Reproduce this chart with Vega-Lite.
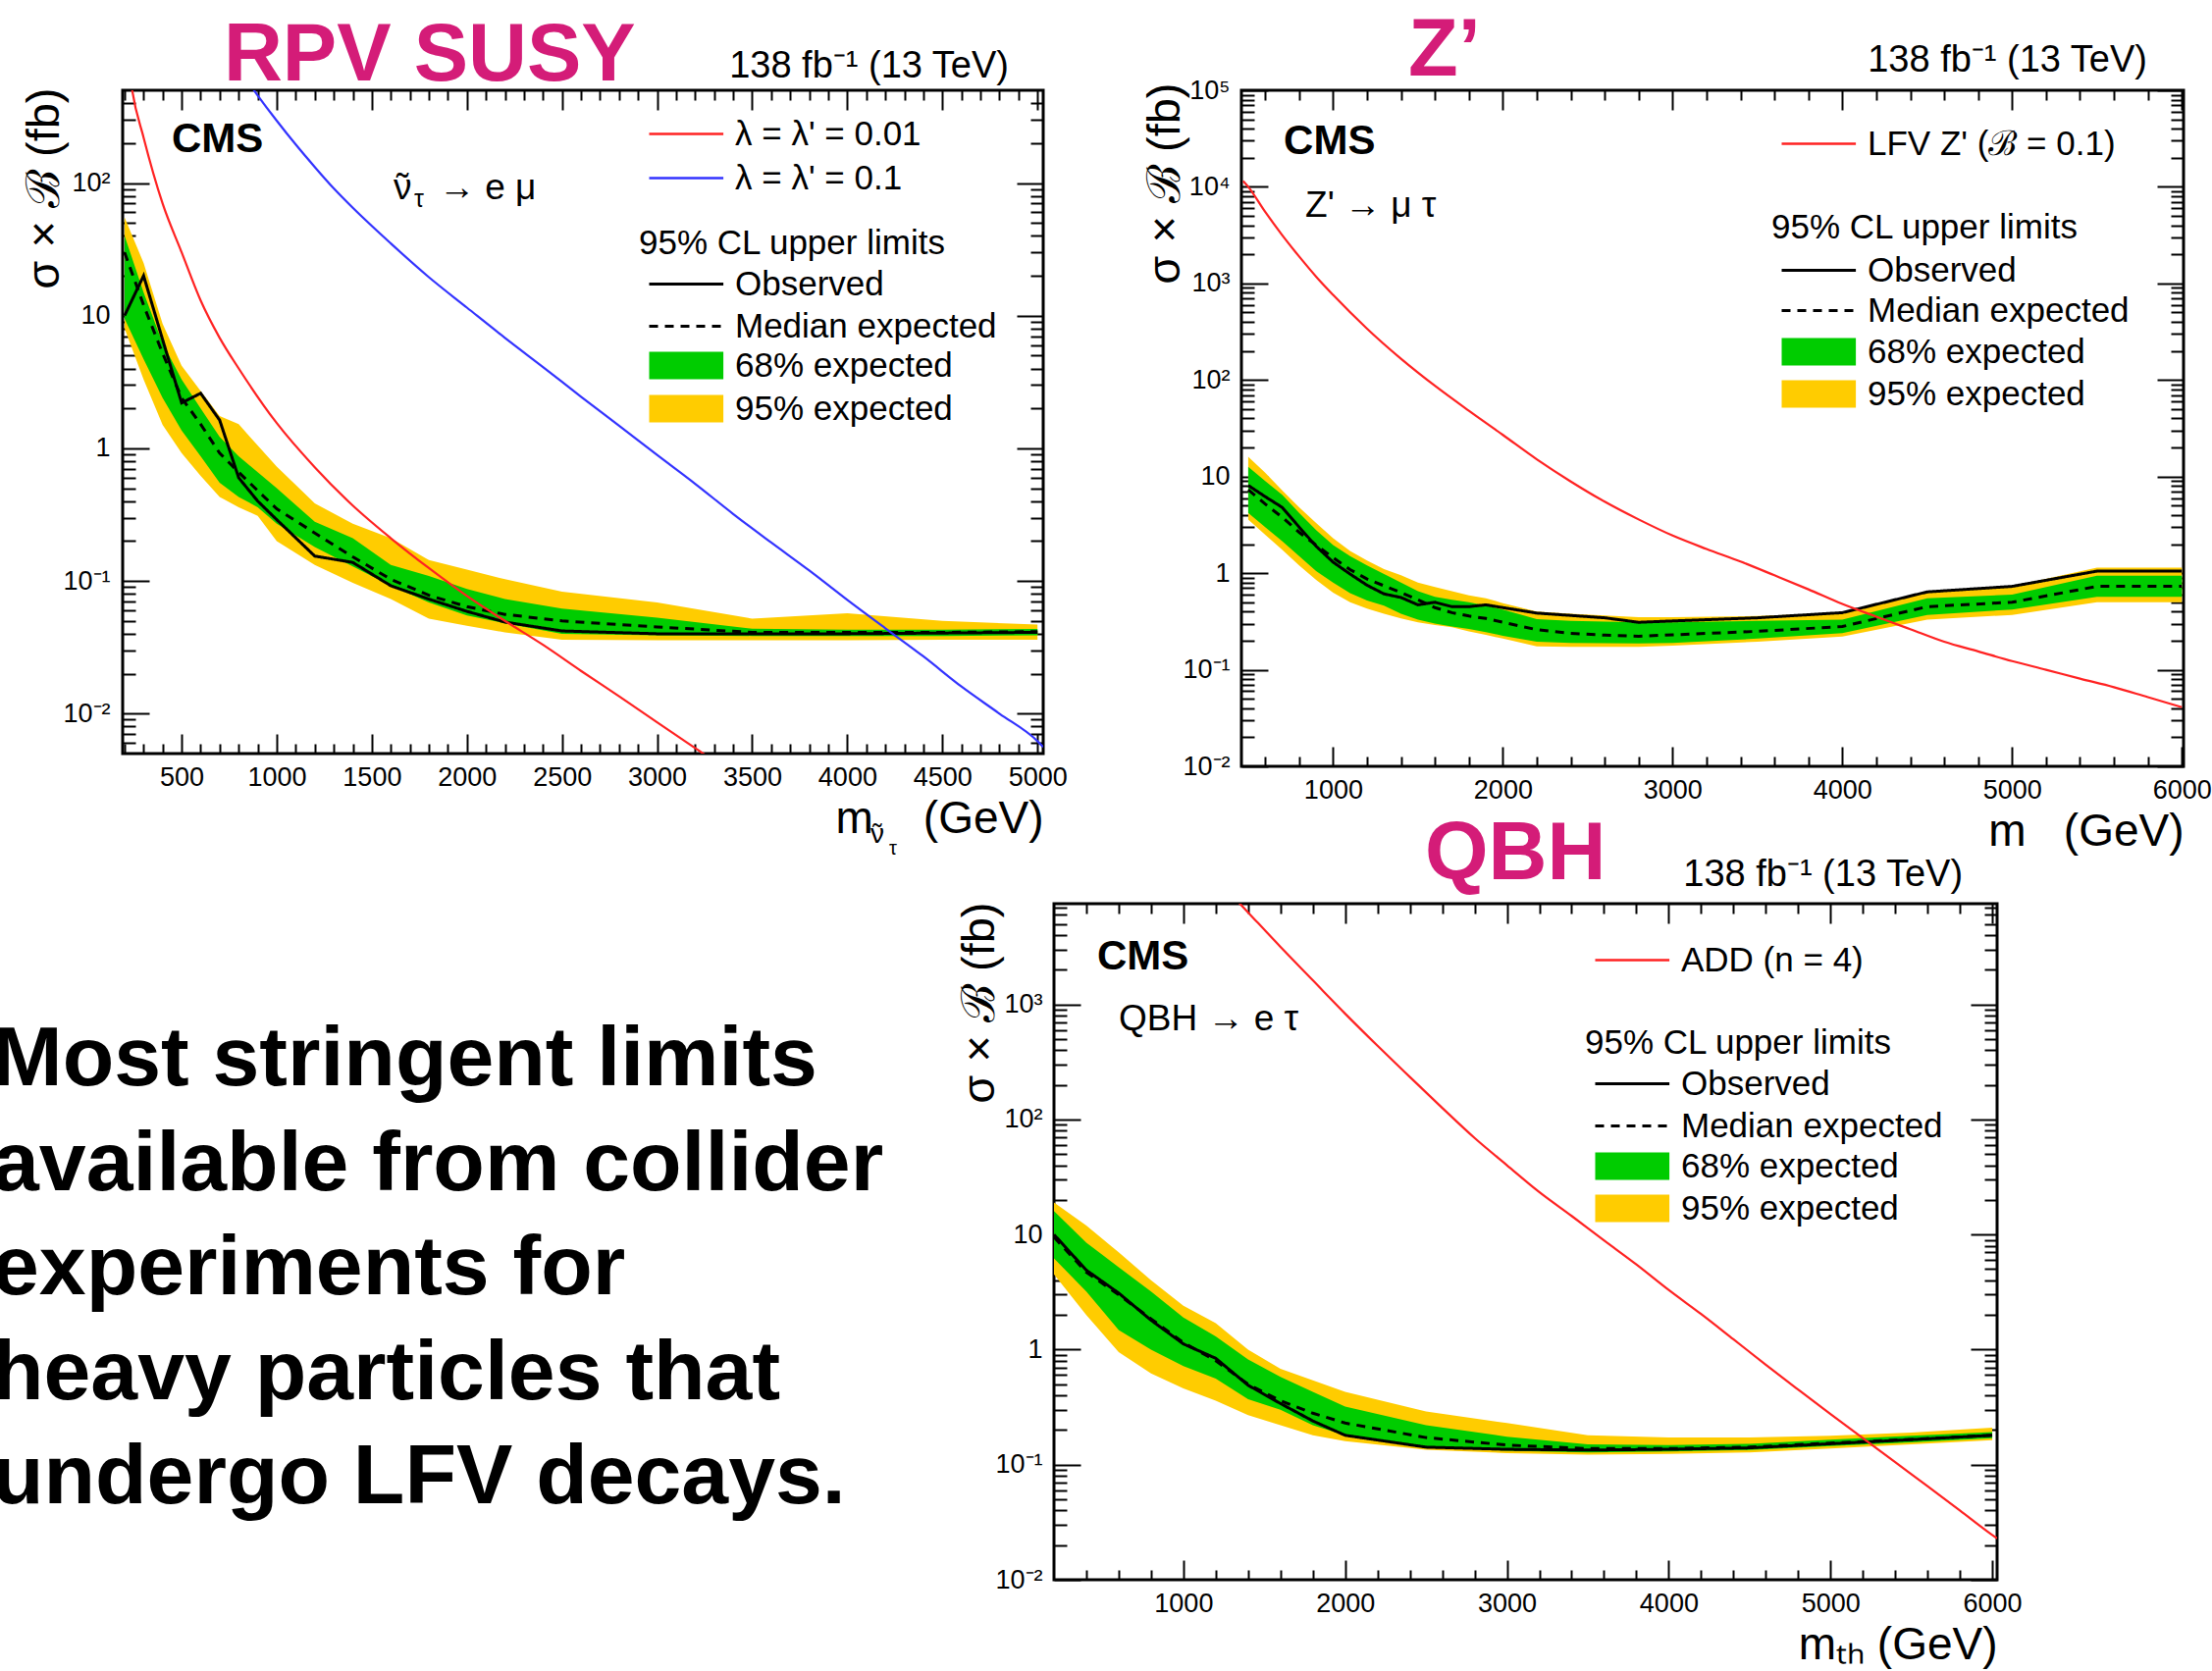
{
  "$schema": "https://vega.github.io/schema/vega-lite/v6.json",
  "background": "white",
  "padding": {"left": -8, "top": 9, "right": 0, "bottom": 0},
  "datasets": {
    "rpv": [
      {"m": 200, "obs": 10, "exp": 30, "lo68": 9.5, "hi68": 40, "lo95": 8, "hi95": 55},
      {"m": 300, "obs": 20, "exp": 12, "lo68": 4.7, "hi68": 15, "lo95": 3.3, "hi95": 25},
      {"m": 400, "obs": 6.6, "exp": 5.2, "lo68": 2.4, "hi68": 6.2, "lo95": 1.5, "hi95": 8.7},
      {"m": 500, "obs": 2.2, "exp": 2.4, "lo68": 1.36, "hi68": 3.3, "lo95": 0.92, "hi95": 4.2},
      {"m": 600, "obs": 2.6, "exp": 1.52, "lo68": 0.87, "hi68": 2.0, "lo95": 0.62, "hi95": 2.7},
      {"m": 700, "obs": 1.63, "exp": 0.92, "lo68": 0.55, "hi68": 1.22, "lo95": 0.43, "hi95": 1.75},
      {"m": 800, "obs": 0.6, "exp": 0.66, "lo68": 0.43, "hi68": 0.87, "lo95": 0.36, "hi95": 1.52},
      {"m": 900, "obs": 0.4, "exp": 0.48, "lo68": 0.36, "hi68": 0.66, "lo95": 0.31, "hi95": 1.05},
      {"m": 1000, "obs": 0.29, "exp": 0.35, "lo68": 0.27, "hi68": 0.5, "lo95": 0.2, "hi95": 0.73},
      {"m": 1200, "obs": 0.154, "exp": 0.23, "lo68": 0.18, "hi68": 0.28, "lo95": 0.132, "hi95": 0.385},
      {"m": 1400, "obs": 0.138, "exp": 0.152, "lo68": 0.129, "hi68": 0.21, "lo95": 0.097, "hi95": 0.27},
      {"m": 1600, "obs": 0.092, "exp": 0.103, "lo68": 0.092, "hi68": 0.132, "lo95": 0.073, "hi95": 0.21},
      {"m": 1800, "obs": 0.073, "exp": 0.078, "lo68": 0.069, "hi68": 0.109, "lo95": 0.052, "hi95": 0.144},
      {"m": 2000, "obs": 0.059, "exp": 0.064, "lo68": 0.055, "hi68": 0.087, "lo95": 0.046, "hi95": 0.122},
      {"m": 2200, "obs": 0.049, "exp": 0.056, "lo68": 0.048, "hi68": 0.073, "lo95": 0.041, "hi95": 0.103},
      {"m": 2500, "obs": 0.042, "exp": 0.05, "lo68": 0.04, "hi68": 0.062, "lo95": 0.036, "hi95": 0.083},
      {"m": 3000, "obs": 0.04, "exp": 0.045, "lo68": 0.039, "hi68": 0.053, "lo95": 0.0357, "hi95": 0.069},
      {"m": 3500, "obs": 0.04, "exp": 0.041, "lo68": 0.0385, "hi68": 0.0436, "lo95": 0.0357, "hi95": 0.052},
      {"m": 4000, "obs": 0.04, "exp": 0.041, "lo68": 0.0385, "hi68": 0.043, "lo95": 0.0357, "hi95": 0.057},
      {"m": 4500, "obs": 0.0405, "exp": 0.041, "lo68": 0.0385, "hi68": 0.043, "lo95": 0.036, "hi95": 0.05},
      {"m": 5000, "obs": 0.041, "exp": 0.0415, "lo68": 0.039, "hi68": 0.0435, "lo95": 0.036, "hi95": 0.047}
    ],
    "rpv_theory": [
      {"model": "λ = λ' = 0.01", "m": 220, "xs": 800},
      {"model": "λ = λ' = 0.01", "m": 240, "xs": 500},
      {"model": "λ = λ' = 0.01", "m": 300, "xs": 220},
      {"model": "λ = λ' = 0.01", "m": 400, "xs": 70},
      {"model": "λ = λ' = 0.01", "m": 500, "xs": 30},
      {"model": "λ = λ' = 0.01", "m": 600, "xs": 13},
      {"model": "λ = λ' = 0.01", "m": 700, "xs": 6.8},
      {"model": "λ = λ' = 0.01", "m": 800, "xs": 4.0},
      {"model": "λ = λ' = 0.01", "m": 1000, "xs": 1.55},
      {"model": "λ = λ' = 0.01", "m": 1200, "xs": 0.72},
      {"model": "λ = λ' = 0.01", "m": 1400, "xs": 0.37},
      {"model": "λ = λ' = 0.01", "m": 1600, "xs": 0.21},
      {"model": "λ = λ' = 0.01", "m": 1800, "xs": 0.125},
      {"model": "λ = λ' = 0.01", "m": 2000, "xs": 0.077},
      {"model": "λ = λ' = 0.01", "m": 2200, "xs": 0.05},
      {"model": "λ = λ' = 0.01", "m": 2400, "xs": 0.033},
      {"model": "λ = λ' = 0.01", "m": 2600, "xs": 0.021},
      {"model": "λ = λ' = 0.01", "m": 2800, "xs": 0.0135},
      {"model": "λ = λ' = 0.01", "m": 3000, "xs": 0.0086},
      {"model": "λ = λ' = 0.01", "m": 3200, "xs": 0.0055},
      {"model": "λ = λ' = 0.01", "m": 3300, "xs": 0.0044},
      {"model": "λ = λ' = 0.1", "m": 850, "xs": 575},
      {"model": "λ = λ' = 0.1", "m": 900, "xs": 457},
      {"model": "λ = λ' = 0.1", "m": 1000, "xs": 295},
      {"model": "λ = λ' = 0.1", "m": 1100, "xs": 195},
      {"model": "λ = λ' = 0.1", "m": 1200, "xs": 132},
      {"model": "λ = λ' = 0.1", "m": 1300, "xs": 91},
      {"model": "λ = λ' = 0.1", "m": 1400, "xs": 65},
      {"model": "λ = λ' = 0.1", "m": 1600, "xs": 35},
      {"model": "λ = λ' = 0.1", "m": 1800, "xs": 19.5},
      {"model": "λ = λ' = 0.1", "m": 2000, "xs": 11.5},
      {"model": "λ = λ' = 0.1", "m": 2200, "xs": 6.8},
      {"model": "λ = λ' = 0.1", "m": 2400, "xs": 4.1},
      {"model": "λ = λ' = 0.1", "m": 2600, "xs": 2.45},
      {"model": "λ = λ' = 0.1", "m": 2800, "xs": 1.48},
      {"model": "λ = λ' = 0.1", "m": 3000, "xs": 0.89},
      {"model": "λ = λ' = 0.1", "m": 3200, "xs": 0.54},
      {"model": "λ = λ' = 0.1", "m": 3400, "xs": 0.32},
      {"model": "λ = λ' = 0.1", "m": 3600, "xs": 0.195},
      {"model": "λ = λ' = 0.1", "m": 3800, "xs": 0.12},
      {"model": "λ = λ' = 0.1", "m": 4000, "xs": 0.072},
      {"model": "λ = λ' = 0.1", "m": 4200, "xs": 0.044},
      {"model": "λ = λ' = 0.1", "m": 4400, "xs": 0.027},
      {"model": "λ = λ' = 0.1", "m": 4600, "xs": 0.016},
      {"model": "λ = λ' = 0.1", "m": 4800, "xs": 0.01},
      {"model": "λ = λ' = 0.1", "m": 5000, "xs": 0.0062},
      {"model": "λ = λ' = 0.1", "m": 5030, "xs": 0.0056}
    ],
    "zp": [
      {"m": 500, "obs": 8.1, "exp": 7.3, "lo68": 4.2, "hi68": 12.6, "lo95": 3.6, "hi95": 16},
      {"m": 600, "obs": 6.2, "exp": 5.2, "lo68": 3.0, "hi68": 9.0, "lo95": 2.5, "hi95": 11},
      {"m": 700, "obs": 4.8, "exp": 3.8, "lo68": 2.15, "hi68": 6.5, "lo95": 1.75, "hi95": 7.2},
      {"m": 800, "obs": 3.0, "exp": 2.65, "lo68": 1.5, "hi68": 4.2, "lo95": 1.2, "hi95": 4.8},
      {"m": 900, "obs": 1.9, "exp": 1.95, "lo68": 1.05, "hi68": 2.8, "lo95": 0.85, "hi95": 3.3},
      {"m": 1000, "obs": 1.3, "exp": 1.45, "lo68": 0.8, "hi68": 1.95, "lo95": 0.63, "hi95": 2.3},
      {"m": 1100, "obs": 0.98, "exp": 1.09, "lo68": 0.62, "hi68": 1.5, "lo95": 0.5, "hi95": 1.7},
      {"m": 1200, "obs": 0.75, "exp": 0.87, "lo68": 0.52, "hi68": 1.2, "lo95": 0.43, "hi95": 1.35},
      {"m": 1300, "obs": 0.61, "exp": 0.74, "lo68": 0.46, "hi68": 0.98, "lo95": 0.38, "hi95": 1.1},
      {"m": 1400, "obs": 0.56, "exp": 0.63, "lo68": 0.38, "hi68": 0.8, "lo95": 0.34, "hi95": 0.95},
      {"m": 1500, "obs": 0.47, "exp": 0.53, "lo68": 0.33, "hi68": 0.65, "lo95": 0.31, "hi95": 0.8},
      {"m": 1600, "obs": 0.5, "exp": 0.44, "lo68": 0.3, "hi68": 0.57, "lo95": 0.29, "hi95": 0.72},
      {"m": 1700, "obs": 0.45, "exp": 0.39, "lo68": 0.28, "hi68": 0.53, "lo95": 0.275, "hi95": 0.65},
      {"m": 1800, "obs": 0.45, "exp": 0.36, "lo68": 0.265, "hi68": 0.5, "lo95": 0.25, "hi95": 0.59},
      {"m": 1900, "obs": 0.47, "exp": 0.34, "lo68": 0.245, "hi68": 0.46, "lo95": 0.23, "hi95": 0.55},
      {"m": 2000, "obs": 0.44, "exp": 0.31, "lo68": 0.225, "hi68": 0.42, "lo95": 0.21, "hi95": 0.49},
      {"m": 2200, "obs": 0.386, "exp": 0.26, "lo68": 0.195, "hi68": 0.335, "lo95": 0.175, "hi95": 0.4},
      {"m": 2400, "obs": 0.365, "exp": 0.238, "lo68": 0.19, "hi68": 0.32, "lo95": 0.173, "hi95": 0.38},
      {"m": 2600, "obs": 0.345, "exp": 0.228, "lo68": 0.188, "hi68": 0.315, "lo95": 0.173, "hi95": 0.365},
      {"m": 2800, "obs": 0.31, "exp": 0.222, "lo68": 0.187, "hi68": 0.31, "lo95": 0.173, "hi95": 0.35},
      {"m": 3000, "obs": 0.32, "exp": 0.23, "lo68": 0.19, "hi68": 0.31, "lo95": 0.178, "hi95": 0.35},
      {"m": 3500, "obs": 0.345, "exp": 0.25, "lo68": 0.21, "hi68": 0.32, "lo95": 0.195, "hi95": 0.36},
      {"m": 4000, "obs": 0.39, "exp": 0.28, "lo68": 0.24, "hi68": 0.33, "lo95": 0.22, "hi95": 0.39},
      {"m": 4500, "obs": 0.64, "exp": 0.45, "lo68": 0.37, "hi68": 0.55, "lo95": 0.33, "hi95": 0.64},
      {"m": 5000, "obs": 0.73, "exp": 0.5, "lo68": 0.42, "hi68": 0.6, "lo95": 0.37, "hi95": 0.73},
      {"m": 5500, "obs": 1.05, "exp": 0.73, "lo68": 0.57, "hi68": 0.94, "lo95": 0.5, "hi95": 1.14},
      {"m": 6000, "obs": 1.05, "exp": 0.73, "lo68": 0.57, "hi68": 0.94, "lo95": 0.5, "hi95": 1.14}
    ],
    "zp_theory": [
      {"model": "LFV Z' (ℬ = 0.1)", "m": 470, "xs": 11500},
      {"model": "LFV Z' (ℬ = 0.1)", "m": 500, "xs": 10000},
      {"model": "LFV Z' (ℬ = 0.1)", "m": 600, "xs": 5500},
      {"model": "LFV Z' (ℬ = 0.1)", "m": 700, "xs": 3160},
      {"model": "LFV Z' (ℬ = 0.1)", "m": 800, "xs": 1900},
      {"model": "LFV Z' (ℬ = 0.1)", "m": 900, "xs": 1175},
      {"model": "LFV Z' (ℬ = 0.1)", "m": 1000, "xs": 760},
      {"model": "LFV Z' (ℬ = 0.1)", "m": 1200, "xs": 340},
      {"model": "LFV Z' (ℬ = 0.1)", "m": 1400, "xs": 166},
      {"model": "LFV Z' (ℬ = 0.1)", "m": 1600, "xs": 87},
      {"model": "LFV Z' (ℬ = 0.1)", "m": 1800, "xs": 48},
      {"model": "LFV Z' (ℬ = 0.1)", "m": 2000, "xs": 27},
      {"model": "LFV Z' (ℬ = 0.1)", "m": 2200, "xs": 15.1},
      {"model": "LFV Z' (ℬ = 0.1)", "m": 2400, "xs": 8.9},
      {"model": "LFV Z' (ℬ = 0.1)", "m": 2600, "xs": 5.5},
      {"model": "LFV Z' (ℬ = 0.1)", "m": 2800, "xs": 3.6},
      {"model": "LFV Z' (ℬ = 0.1)", "m": 3000, "xs": 2.45},
      {"model": "LFV Z' (ℬ = 0.1)", "m": 3200, "xs": 1.78},
      {"model": "LFV Z' (ℬ = 0.1)", "m": 3400, "xs": 1.32},
      {"model": "LFV Z' (ℬ = 0.1)", "m": 3600, "xs": 0.95},
      {"model": "LFV Z' (ℬ = 0.1)", "m": 3800, "xs": 0.68},
      {"model": "LFV Z' (ℬ = 0.1)", "m": 4000, "xs": 0.48},
      {"model": "LFV Z' (ℬ = 0.1)", "m": 4200, "xs": 0.355},
      {"model": "LFV Z' (ℬ = 0.1)", "m": 4400, "xs": 0.263},
      {"model": "LFV Z' (ℬ = 0.1)", "m": 4600, "xs": 0.195},
      {"model": "LFV Z' (ℬ = 0.1)", "m": 4800, "xs": 0.155},
      {"model": "LFV Z' (ℬ = 0.1)", "m": 5000, "xs": 0.123},
      {"model": "LFV Z' (ℬ = 0.1)", "m": 5200, "xs": 0.1},
      {"model": "LFV Z' (ℬ = 0.1)", "m": 5400, "xs": 0.081},
      {"model": "LFV Z' (ℬ = 0.1)", "m": 5600, "xs": 0.066},
      {"model": "LFV Z' (ℬ = 0.1)", "m": 5800, "xs": 0.052},
      {"model": "LFV Z' (ℬ = 0.1)", "m": 6000, "xs": 0.041}
    ],
    "qbh": [
      {"m": 200, "obs": 10, "exp": 9.5, "lo68": 6.2, "hi68": 16, "lo95": 4.5, "hi95": 19},
      {"m": 400, "obs": 4.9, "exp": 4.7, "lo68": 3.2, "hi68": 8.5, "lo95": 2.0, "hi95": 12},
      {"m": 600, "obs": 3.1, "exp": 3.0, "lo68": 1.48, "hi68": 5.2, "lo95": 0.95, "hi95": 7.0},
      {"m": 800, "obs": 1.8, "exp": 1.85, "lo68": 1.0, "hi68": 3.2, "lo95": 0.62, "hi95": 4.0},
      {"m": 1000, "obs": 1.12, "exp": 1.15, "lo68": 0.72, "hi68": 1.9, "lo95": 0.46, "hi95": 2.4},
      {"m": 1200, "obs": 0.84, "exp": 0.8, "lo68": 0.56, "hi68": 1.3, "lo95": 0.36, "hi95": 1.7},
      {"m": 1400, "obs": 0.49, "exp": 0.5, "lo68": 0.37, "hi68": 0.82, "lo95": 0.27, "hi95": 1.0},
      {"m": 1600, "obs": 0.34, "exp": 0.36, "lo68": 0.3, "hi68": 0.58, "lo95": 0.22, "hi95": 0.68},
      {"m": 1800, "obs": 0.24, "exp": 0.28, "lo68": 0.22, "hi68": 0.43, "lo95": 0.18, "hi95": 0.54},
      {"m": 2000, "obs": 0.18, "exp": 0.23, "lo68": 0.18, "hi68": 0.32, "lo95": 0.16, "hi95": 0.43},
      {"m": 2500, "obs": 0.142, "exp": 0.172, "lo68": 0.142, "hi68": 0.22, "lo95": 0.135, "hi95": 0.29},
      {"m": 3000, "obs": 0.136, "exp": 0.148, "lo68": 0.132, "hi68": 0.175, "lo95": 0.126, "hi95": 0.23},
      {"m": 3500, "obs": 0.134, "exp": 0.138, "lo68": 0.128, "hi68": 0.15, "lo95": 0.122, "hi95": 0.18},
      {"m": 4000, "obs": 0.136, "exp": 0.138, "lo68": 0.13, "hi68": 0.148, "lo95": 0.124, "hi95": 0.172},
      {"m": 4500, "obs": 0.14, "exp": 0.142, "lo68": 0.134, "hi68": 0.152, "lo95": 0.128, "hi95": 0.172},
      {"m": 5000, "obs": 0.152, "exp": 0.154, "lo68": 0.145, "hi68": 0.165, "lo95": 0.138, "hi95": 0.178},
      {"m": 5500, "obs": 0.165, "exp": 0.166, "lo68": 0.156, "hi68": 0.178, "lo95": 0.15, "hi95": 0.19},
      {"m": 6000, "obs": 0.18, "exp": 0.18, "lo68": 0.17, "hi68": 0.192, "lo95": 0.163, "hi95": 0.21}
    ],
    "qbh_theory": [
      {"model": "ADD (n = 4)", "m": 1300, "xs": 8900},
      {"model": "ADD (n = 4)", "m": 1400, "xs": 6300},
      {"model": "ADD (n = 4)", "m": 1600, "xs": 3160},
      {"model": "ADD (n = 4)", "m": 1800, "xs": 1620},
      {"model": "ADD (n = 4)", "m": 2000, "xs": 830},
      {"model": "ADD (n = 4)", "m": 2200, "xs": 437},
      {"model": "ADD (n = 4)", "m": 2400, "xs": 234},
      {"model": "ADD (n = 4)", "m": 2600, "xs": 126},
      {"model": "ADD (n = 4)", "m": 2800, "xs": 69},
      {"model": "ADD (n = 4)", "m": 3000, "xs": 40},
      {"model": "ADD (n = 4)", "m": 3200, "xs": 23.4},
      {"model": "ADD (n = 4)", "m": 3400, "xs": 14.5},
      {"model": "ADD (n = 4)", "m": 3600, "xs": 8.9},
      {"model": "ADD (n = 4)", "m": 3800, "xs": 5.5},
      {"model": "ADD (n = 4)", "m": 4000, "xs": 3.3},
      {"model": "ADD (n = 4)", "m": 4200, "xs": 2.04},
      {"model": "ADD (n = 4)", "m": 4400, "xs": 1.23},
      {"model": "ADD (n = 4)", "m": 4600, "xs": 0.74},
      {"model": "ADD (n = 4)", "m": 4800, "xs": 0.45},
      {"model": "ADD (n = 4)", "m": 5000, "xs": 0.275},
      {"model": "ADD (n = 4)", "m": 5200, "xs": 0.17},
      {"model": "ADD (n = 4)", "m": 5400, "xs": 0.105},
      {"model": "ADD (n = 4)", "m": 5600, "xs": 0.065},
      {"model": "ADD (n = 4)", "m": 5800, "xs": 0.04},
      {"model": "ADD (n = 4)", "m": 6000, "xs": 0.0245},
      {"model": "ADD (n = 4)", "m": 6030, "xs": 0.0229}
    ],
    "summary": [
      {"line": 1, "text": "Most stringent limits"},
      {"line": 2, "text": "available from collider"},
      {"line": 3, "text": "experiments for"},
      {"line": 4, "text": "heavy particles that"},
      {"line": 5, "text": "undergo LFV decays."}
    ]
  },
  "bounds": "flush",
  "spacing": 829,
  "resolve": {
    "scale": {"fill": "independent", "strokeDash": "independent", "stroke": "independent"},
    "legend": {"fill": "independent", "strokeDash": "independent", "stroke": "independent"}
  },
  "vconcat": [
    {
      "bounds": "flush",
      "spacing": 202,
      "resolve": {
        "scale": {"fill": "independent", "strokeDash": "independent", "stroke": "independent"},
        "legend": {"fill": "independent", "strokeDash": "independent", "stroke": "independent"}
      },
      "hconcat": [
        {
          "width": 938,
          "height": 676,
          "view": {"stroke": "black", "strokeWidth": 3},
          "resolve": {"axis": {"x": "independent", "y": "independent"}},
          "layer": [
            {
              "data": {"name": "rpv"},
              "mark": {"type": "area", "opacity": 1},
              "encoding": {
                "x": {"field": "m", "type": "quantitative", "scale": {"domain": [190, 5030], "nice": false, "zero": false},
                  "axis": {"orient": "bottom", "values": [500, 1000, 1500, 2000, 2500, 3000, 3500, 4000, 4500, 5000], "format": "d", "tickSize": -20, "labelPadding": 31,
                    "title": "m\u00a0\u00a0\u00a0\u00a0(GeV)", "titleFontSize": 46, "titleAlign": "right", "titleBaseline": "alphabetic", "titleX": 938, "titleY": 80}},
                "y": {"field": "lo95", "type": "quantitative", "scale": {"type": "log", "domain": [0.005, 500], "nice": false},
                  "axis": {"orient": "left", "values": [0.01, 0.1, 1, 10, 100], "tickSize": -27, "labelPadding": 40,
                    "labelExpr": "datum.value < 0.05 ? '10⁻²' : datum.value < 0.5 ? '10⁻¹' : datum.value < 5 ? '1' : datum.value < 50 ? '10' : datum.value < 500 ? '10²' : datum.value < 5000 ? '10³' : datum.value < 50000 ? '10⁴' : '10⁵'",
                    "title": "σ × ℬ (fb)", "titleFontSize": 47, "titleAngle": 270, "titleAlign": "right", "titleBaseline": "middle", "titleX": -80, "titleY": -3}},
                "y2": {"field": "hi95"},
                "fill": {
                  "datum": "95% expected",
                  "scale": {"domain": ["68% expected", "95% expected"], "range": ["#00cc00", "#ffcc00"]},
                  "legend": {
                    "orient": "none", "legendX": 526, "legendY": 263, "direction": "vertical", "title": null,
                    "labelFontSize": 35, "labelOffset": 63, "symbolSize": 784, "rowPadding": 8,
                    "symbolType": "M-0.5,-1H4.9V1H-0.5Z", "symbolStrokeWidth": 0, "symbolOpacity": 1
                  }
                }
              }
            },
            {
              "data": {"name": "rpv"},
              "mark": {"type": "area", "opacity": 1},
              "encoding": {
                "x": {"field": "m", "type": "quantitative",
                  "axis": {"orient": "bottom", "values": [200, 300, 400, 600, 700, 800, 900, 1100, 1200, 1300, 1400, 1600, 1700, 1800, 1900, 2100, 2200, 2300, 2400, 2600, 2700, 2800, 2900, 3100, 3200, 3300, 3400, 3600, 3700, 3800, 3900, 4100, 4200, 4300, 4400, 4600, 4700, 4800, 4900], "tickSize": -10, "labels": false, "title": null}},
                "y": {"field": "lo68", "type": "quantitative",
                  "axis": {"orient": "left", "values": [0.006, 0.007, 0.008, 0.009, 0.02, 0.03, 0.04, 0.05, 0.06, 0.07, 0.08, 0.09, 0.2, 0.3, 0.4, 0.5, 0.6, 0.7, 0.8, 0.9, 2, 3, 4, 5, 6, 7, 8, 9, 20, 30, 40, 50, 60, 70, 80, 90, 200, 300, 400], "tickSize": -13, "labels": false, "title": null}},
                "y2": {"field": "hi68"},
                "fill": {"datum": "68% expected", "legend": null}
              }
            },
            {
              "data": {"name": "rpv"},
              "mark": {"type": "line", "strokeWidth": 3, "color": "black"},
              "encoding": {
                "x": {"field": "m", "type": "quantitative",
                  "axis": {"orient": "top", "values": [500, 1000, 1500, 2000, 2500, 3000, 3500, 4000, 4500, 5000], "tickSize": -20, "labels": false, "title": null}},
                "y": {"field": "exp", "type": "quantitative",
                  "axis": {"orient": "right", "values": [0.01, 0.1, 1, 10, 100], "tickSize": -27, "labels": false, "title": null}},
                "strokeDash": {
                  "datum": "Median expected",
                  "scale": {"domain": ["Observed", "Median expected"], "range": [[1, 0], [9, 7]]},
                  "legend": {
                    "orient": "none", "legendX": 526, "legendY": 139, "direction": "vertical",
                    "title": "95% CL upper limits", "titleFontSize": 35, "titlePadding": 6,
                    "labelFontSize": 35, "labelOffset": 63, "symbolSize": 784, "rowPadding": 7,
                    "symbolType": "M-0.5,0H4.9", "symbolStrokeWidth": 3, "symbolStrokeColor": "black", "symbolFillColor": "transparent", "symbolOpacity": 1
                  }
                }
              }
            },
            {
              "data": {"name": "rpv"},
              "mark": {"type": "line", "strokeWidth": 3, "color": "black"},
              "encoding": {
                "x": {"field": "m", "type": "quantitative",
                  "axis": {"orient": "top", "values": [200, 300, 400, 600, 700, 800, 900, 1100, 1200, 1300, 1400, 1600, 1700, 1800, 1900, 2100, 2200, 2300, 2400, 2600, 2700, 2800, 2900, 3100, 3200, 3300, 3400, 3600, 3700, 3800, 3900, 4100, 4200, 4300, 4400, 4600, 4700, 4800, 4900], "tickSize": -10, "labels": false, "title": null}},
                "y": {"field": "obs", "type": "quantitative",
                  "axis": {"orient": "right", "values": [0.006, 0.007, 0.008, 0.009, 0.02, 0.03, 0.04, 0.05, 0.06, 0.07, 0.08, 0.09, 0.2, 0.3, 0.4, 0.5, 0.6, 0.7, 0.8, 0.9, 2, 3, 4, 5, 6, 7, 8, 9, 20, 30, 40, 50, 60, 70, 80, 90, 200, 300, 400], "tickSize": -13, "labels": false, "title": null}},
                "strokeDash": {"datum": "Observed", "legend": null}
              }
            },
            {
              "data": {"name": "rpv_theory"},
              "mark": {"type": "line", "strokeWidth": 2.2, "clip": true, "interpolate": "monotone"},
              "encoding": {
                "x": {"field": "m", "type": "quantitative", "axis": null},
                "y": {"field": "xs", "type": "quantitative", "axis": null},
                "stroke": {
                  "field": "model", "type": "nominal",
                  "scale": {"domain": ["λ = λ' = 0.01", "λ = λ' = 0.1"], "range": ["#ff2222", "#3333ff"]},
                  "legend": {
                    "orient": "none", "legendX": 526, "legendY": 27, "direction": "vertical", "title": null,
                    "labelFontSize": 35, "labelOffset": 63, "symbolSize": 784, "rowPadding": 9,
                    "encode": {"symbols": {"update": {"shape": {"value": "M-0.5,0H4.9"}, "strokeWidth": {"value": 2.5}, "fill": {"value": "transparent"}, "opacity": {"value": 1}}}}
                  }
                }
              }
            },
            {
              "data": {"values": [{}]},
              "mark": {"type": "text", "text": "CMS", "fontSize": 42, "fontWeight": "bold", "align": "left", "baseline": "alphabetic"},
              "encoding": {"x": {"datum": 448, "type": "quantitative", "axis": null}, "y": {"datum": 171, "type": "quantitative", "axis": null}}
            },
            {
              "data": {"values": [{}]},
              "mark": {"type": "text", "text": "ν", "fontSize": 37, "align": "left", "baseline": "alphabetic"},
              "encoding": {"x": {"datum": 1614, "type": "quantitative", "axis": null}, "y": {"datum": 75.5, "type": "quantitative", "axis": null}}
            },
            {
              "data": {"values": [{}]},
              "mark": {"type": "text", "text": "˜", "fontSize": 37, "align": "center", "baseline": "alphabetic"},
              "encoding": {"x": {"datum": 1661, "type": "quantitative", "axis": null}, "y": {"datum": 75.5, "type": "quantitative", "axis": null}}
            },
            {
              "data": {"values": [{}]},
              "mark": {"type": "text", "text": "τ", "fontSize": 25, "align": "left", "baseline": "alphabetic"},
              "encoding": {"x": {"datum": 1722, "type": "quantitative", "axis": null}, "y": {"datum": 65.9, "type": "quantitative", "axis": null}}
            },
            {
              "data": {"values": [{}]},
              "mark": {"type": "text", "text": "→ e μ", "fontSize": 37, "align": "left", "baseline": "alphabetic"},
              "encoding": {"x": {"datum": 1851, "type": "quantitative", "axis": null}, "y": {"datum": 75.5, "type": "quantitative", "axis": null}}
            },
            {
              "data": {"values": [{}]},
              "mark": {"type": "text", "text": "138 fb⁻¹ (13 TeV)", "fontSize": 38, "align": "right", "baseline": "alphabetic"},
              "encoding": {"x": {"datum": 4849, "type": "quantitative", "axis": null}, "y": {"datum": 624, "type": "quantitative", "axis": null}}
            },
            {
              "data": {"values": [{}]},
              "mark": {"type": "text", "text": "RPV SUSY", "fontSize": 83, "fontWeight": "bold", "color": "#d41c78", "align": "left", "baseline": "alphabetic"},
              "encoding": {"x": {"datum": 721, "type": "quantitative", "axis": null}, "y": {"datum": 593, "type": "quantitative", "axis": null}}
            },
            {
              "data": {"values": [{}]},
              "mark": {"type": "text", "text": "ν", "fontSize": 28, "align": "left", "baseline": "alphabetic"},
              "encoding": {"x": {"datum": 4122, "type": "quantitative", "axis": null}, "y": {"datum": 0.00106, "type": "quantitative", "axis": null}}
            },
            {
              "data": {"values": [{}]},
              "mark": {"type": "text", "text": "˜", "fontSize": 28, "align": "center", "baseline": "alphabetic"},
              "encoding": {"x": {"datum": 4158, "type": "quantitative", "axis": null}, "y": {"datum": 0.00106, "type": "quantitative", "axis": null}}
            },
            {
              "data": {"values": [{}]},
              "mark": {"type": "text", "text": "τ", "fontSize": 20, "align": "left", "baseline": "alphabetic"},
              "encoding": {"x": {"datum": 4220, "type": "quantitative", "axis": null}, "y": {"datum": 0.000865, "type": "quantitative", "axis": null}}
            }
          ]
        },
        {
          "width": 960,
          "height": 689,
          "view": {"stroke": "black", "strokeWidth": 3},
          "resolve": {"axis": {"x": "independent", "y": "independent"}},
          "layer": [
            {
              "data": {"name": "zp"},
              "mark": {"type": "area", "opacity": 1},
              "encoding": {
                "x": {"field": "m", "type": "quantitative", "scale": {"domain": [460, 6010], "nice": false, "zero": false},
                  "axis": {"orient": "bottom", "values": [1000, 2000, 3000, 4000, 5000, 6000], "format": "d", "tickSize": -20, "labelPadding": 31,
                    "title": "m\u00a0\u00a0\u00a0(GeV)", "titleFontSize": 46, "titleAlign": "right", "titleBaseline": "alphabetic", "titleX": 960, "titleY": 80}},
                "y": {"field": "lo95", "type": "quantitative", "scale": {"type": "log", "domain": [0.01, 100000], "nice": false},
                  "axis": {"orient": "left", "values": [0.01, 0.1, 1, 10, 100, 1000, 10000, 100000], "tickSize": -27, "labelPadding": 39,
                    "labelExpr": "datum.value < 0.05 ? '10⁻²' : datum.value < 0.5 ? '10⁻¹' : datum.value < 5 ? '1' : datum.value < 50 ? '10' : datum.value < 500 ? '10²' : datum.value < 5000 ? '10³' : datum.value < 50000 ? '10⁴' : '10⁵'",
                    "title": "σ × ℬ (fb)", "titleFontSize": 47, "titleAngle": 270, "titleAlign": "right", "titleBaseline": "middle", "titleX": -78, "titleY": -8}},
                "y2": {"field": "hi95"},
                "fill": {
                  "datum": "95% expected",
                  "scale": {"domain": ["68% expected", "95% expected"], "range": ["#00cc00", "#ffcc00"]},
                  "legend": {
                    "orient": "none", "legendX": 540, "legendY": 249, "direction": "vertical", "title": null,
                    "labelFontSize": 35, "labelOffset": 63, "symbolSize": 784, "rowPadding": 7,
                    "symbolType": "M-0.5,-1H4.9V1H-0.5Z", "symbolStrokeWidth": 0, "symbolOpacity": 1
                  }
                }
              }
            },
            {
              "data": {"name": "zp"},
              "mark": {"type": "area", "opacity": 1},
              "encoding": {
                "x": {"field": "m", "type": "quantitative",
                  "axis": {"orient": "bottom", "values": [600, 800, 1200, 1400, 1600, 1800, 2200, 2400, 2600, 2800, 3200, 3400, 3600, 3800, 4200, 4400, 4600, 4800, 5200, 5400, 5600, 5800], "tickSize": -10, "labels": false, "title": null}},
                "y": {"field": "lo68", "type": "quantitative",
                  "axis": {"orient": "left", "values": [0.02, 0.03, 0.04, 0.05, 0.06, 0.07, 0.08, 0.09, 0.2, 0.3, 0.4, 0.5, 0.6, 0.7, 0.8, 0.9, 2, 3, 4, 5, 6, 7, 8, 9, 20, 30, 40, 50, 60, 70, 80, 90, 200, 300, 400, 500, 600, 700, 800, 900, 2000, 3000, 4000, 5000, 6000, 7000, 8000, 9000, 20000, 30000, 40000, 50000, 60000, 70000, 80000, 90000], "tickSize": -13, "labels": false, "title": null}},
                "y2": {"field": "hi68"},
                "fill": {"datum": "68% expected", "legend": null}
              }
            },
            {
              "data": {"name": "zp"},
              "mark": {"type": "line", "strokeWidth": 3, "color": "black"},
              "encoding": {
                "x": {"field": "m", "type": "quantitative",
                  "axis": {"orient": "top", "values": [1000, 2000, 3000, 4000, 5000, 6000], "tickSize": -20, "labels": false, "title": null}},
                "y": {"field": "exp", "type": "quantitative",
                  "axis": {"orient": "right", "values": [0.01, 0.1, 1, 10, 100, 1000, 10000, 100000], "tickSize": -27, "labels": false, "title": null}},
                "strokeDash": {
                  "datum": "Median expected",
                  "scale": {"domain": ["Observed", "Median expected"], "range": [[1, 0], [9, 7]]},
                  "legend": {
                    "orient": "none", "legendX": 540, "legendY": 123, "direction": "vertical",
                    "title": "95% CL upper limits", "titleFontSize": 35, "titlePadding": 8,
                    "labelFontSize": 35, "labelOffset": 63, "symbolSize": 784, "rowPadding": 5,
                    "symbolType": "M-0.5,0H4.9", "symbolStrokeWidth": 3, "symbolStrokeColor": "black", "symbolFillColor": "transparent", "symbolOpacity": 1
                  }
                }
              }
            },
            {
              "data": {"name": "zp"},
              "mark": {"type": "line", "strokeWidth": 3, "color": "black"},
              "encoding": {
                "x": {"field": "m", "type": "quantitative",
                  "axis": {"orient": "top", "values": [600, 800, 1200, 1400, 1600, 1800, 2200, 2400, 2600, 2800, 3200, 3400, 3600, 3800, 4200, 4400, 4600, 4800, 5200, 5400, 5600, 5800], "tickSize": -10, "labels": false, "title": null}},
                "y": {"field": "obs", "type": "quantitative",
                  "axis": {"orient": "right", "values": [0.02, 0.03, 0.04, 0.05, 0.06, 0.07, 0.08, 0.09, 0.2, 0.3, 0.4, 0.5, 0.6, 0.7, 0.8, 0.9, 2, 3, 4, 5, 6, 7, 8, 9, 20, 30, 40, 50, 60, 70, 80, 90, 200, 300, 400, 500, 600, 700, 800, 900, 2000, 3000, 4000, 5000, 6000, 7000, 8000, 9000, 20000, 30000, 40000, 50000, 60000, 70000, 80000, 90000], "tickSize": -13, "labels": false, "title": null}},
                "strokeDash": {"datum": "Observed", "legend": null}
              }
            },
            {
              "data": {"name": "zp_theory"},
              "mark": {"type": "line", "strokeWidth": 2.2, "clip": true, "interpolate": "monotone"},
              "encoding": {
                "x": {"field": "m", "type": "quantitative", "axis": null},
                "y": {"field": "xs", "type": "quantitative", "axis": null},
                "stroke": {
                  "field": "model", "type": "nominal",
                  "scale": {"domain": ["LFV Z' (ℬ = 0.1)"], "range": ["#ff2222"]},
                  "legend": {
                    "orient": "none", "legendX": 540, "legendY": 37, "direction": "vertical", "title": null,
                    "labelFontSize": 35, "labelOffset": 63, "symbolSize": 784, "rowPadding": 12,
                    "encode": {"symbols": {"update": {"shape": {"value": "M-0.5,0H4.9"}, "strokeWidth": {"value": 2.5}, "fill": {"value": "transparent"}, "opacity": {"value": 1}}}}
                  }
                }
              }
            },
            {
              "data": {"values": [{}]},
              "mark": {"type": "text", "text": "CMS", "fontSize": 42, "fontWeight": "bold", "align": "left", "baseline": "alphabetic"},
              "encoding": {"x": {"datum": 709, "type": "quantitative", "axis": null}, "y": {"datum": 21900, "type": "quantitative", "axis": null}}
            },
            {
              "data": {"values": [{}]},
              "mark": {"type": "text", "text": "Z' → μ τ", "fontSize": 37, "align": "left", "baseline": "alphabetic"},
              "encoding": {"x": {"datum": 836, "type": "quantitative", "axis": null}, "y": {"datum": 4890, "type": "quantitative", "axis": null}}
            },
            {
              "data": {"values": [{}]},
              "mark": {"type": "text", "text": "138 fb⁻¹ (13 TeV)", "fontSize": 38, "align": "right", "baseline": "alphabetic"},
              "encoding": {"x": {"datum": 5796, "type": "quantitative", "axis": null}, "y": {"datum": 156000, "type": "quantitative", "axis": null}}
            },
            {
              "data": {"values": [{}]},
              "mark": {"type": "text", "text": "Z’", "fontSize": 83, "fontWeight": "bold", "color": "#d41c78", "align": "left", "baseline": "alphabetic"},
              "encoding": {"x": {"datum": 1443, "type": "quantitative", "axis": null}, "y": {"datum": 142000, "type": "quantitative", "axis": null}}
            }
          ]
        }
      ]
    },
    {
      "bounds": "flush",
      "spacing": 49,
      "resolve": {
        "scale": {"fill": "independent", "strokeDash": "independent", "stroke": "independent"},
        "legend": {"fill": "independent", "strokeDash": "independent", "stroke": "independent"}
      },
      "hconcat": [
        {
          "width": 900,
          "height": 689,
          "data": {"name": "summary"},
          "mark": {"type": "text", "fontSize": 86, "fontWeight": "bold", "align": "left", "baseline": "alphabetic"},
          "encoding": {
            "x": {"datum": 0, "type": "quantitative", "scale": {"domain": [0, 1], "range": [-133, 767]}, "axis": null},
            "y": {"field": "line", "type": "ordinal", "scale": {"type": "point", "range": [185, 611], "padding": 0}, "axis": null},
            "text": {"field": "text"}
          }
        },
        {
          "width": 961,
          "height": 689,
          "view": {"stroke": "black", "strokeWidth": 3},
          "resolve": {"axis": {"x": "independent", "y": "independent"}},
          "layer": [
            {
              "data": {"name": "qbh"},
              "mark": {"type": "area", "opacity": 1},
              "encoding": {
                "x": {"field": "m", "type": "quantitative", "scale": {"domain": [200, 6030], "nice": false, "zero": false},
                  "axis": {"orient": "bottom", "values": [1000, 2000, 3000, 4000, 5000, 6000], "format": "d", "tickSize": -20, "labelPadding": 31,
                    "title": "mₜₕ (GeV)", "titleFontSize": 46, "titleAlign": "right", "titleBaseline": "alphabetic", "titleX": 961, "titleY": 80}},
                "y": {"field": "lo95", "type": "quantitative", "scale": {"type": "log", "domain": [0.01, 7500], "nice": false},
                  "axis": {"orient": "left", "values": [0.01, 0.1, 1, 10, 100, 1000], "tickSize": -27, "labelPadding": 39,
                    "labelExpr": "datum.value < 0.05 ? '10⁻²' : datum.value < 0.5 ? '10⁻¹' : datum.value < 5 ? '1' : datum.value < 50 ? '10' : datum.value < 500 ? '10²' : datum.value < 5000 ? '10³' : datum.value < 50000 ? '10⁴' : '10⁵'",
                    "title": "σ × ℬ (fb)", "titleFontSize": 47, "titleAngle": 270, "titleAlign": "right", "titleBaseline": "middle", "titleX": -76, "titleY": -2}},
                "y2": {"field": "hi95"},
                "fill": {
                  "datum": "95% expected",
                  "scale": {"domain": ["68% expected", "95% expected"], "range": ["#00cc00", "#ffcc00"]},
                  "legend": {
                    "orient": "none", "legendX": 541, "legendY": 250, "direction": "vertical", "title": null,
                    "labelFontSize": 35, "labelOffset": 63, "symbolSize": 784, "rowPadding": 7,
                    "symbolType": "M-0.5,-1H4.9V1H-0.5Z", "symbolStrokeWidth": 0, "symbolOpacity": 1
                  }
                }
              }
            },
            {
              "data": {"name": "qbh"},
              "mark": {"type": "area", "opacity": 1},
              "encoding": {
                "x": {"field": "m", "type": "quantitative",
                  "axis": {"orient": "bottom", "values": [400, 600, 800, 1200, 1400, 1600, 1800, 2200, 2400, 2600, 2800, 3200, 3400, 3600, 3800, 4200, 4400, 4600, 4800, 5200, 5400, 5600, 5800], "tickSize": -10, "labels": false, "title": null}},
                "y": {"field": "lo68", "type": "quantitative",
                  "axis": {"orient": "left", "values": [0.02, 0.03, 0.04, 0.05, 0.06, 0.07, 0.08, 0.09, 0.2, 0.3, 0.4, 0.5, 0.6, 0.7, 0.8, 0.9, 2, 3, 4, 5, 6, 7, 8, 9, 20, 30, 40, 50, 60, 70, 80, 90, 200, 300, 400, 500, 600, 700, 800, 900, 2000, 3000, 4000, 5000, 6000, 7000], "tickSize": -13, "labels": false, "title": null}},
                "y2": {"field": "hi68"},
                "fill": {"datum": "68% expected", "legend": null}
              }
            },
            {
              "data": {"name": "qbh"},
              "mark": {"type": "line", "strokeWidth": 3, "color": "black"},
              "encoding": {
                "x": {"field": "m", "type": "quantitative",
                  "axis": {"orient": "top", "values": [1000, 2000, 3000, 4000, 5000, 6000], "tickSize": -20, "labels": false, "title": null}},
                "y": {"field": "exp", "type": "quantitative",
                  "axis": {"orient": "right", "values": [0.01, 0.1, 1, 10, 100, 1000], "tickSize": -27, "labels": false, "title": null}},
                "strokeDash": {
                  "datum": "Median expected",
                  "scale": {"domain": ["Observed", "Median expected"], "range": [[1, 0], [9, 7]]},
                  "legend": {
                    "orient": "none", "legendX": 541, "legendY": 125, "direction": "vertical",
                    "title": "95% CL upper limits", "titleFontSize": 35, "titlePadding": 6,
                    "labelFontSize": 35, "labelOffset": 63, "symbolSize": 784, "rowPadding": 7,
                    "symbolType": "M-0.5,0H4.9", "symbolStrokeWidth": 3, "symbolStrokeColor": "black", "symbolFillColor": "transparent", "symbolOpacity": 1
                  }
                }
              }
            },
            {
              "data": {"name": "qbh"},
              "mark": {"type": "line", "strokeWidth": 3, "color": "black"},
              "encoding": {
                "x": {"field": "m", "type": "quantitative",
                  "axis": {"orient": "top", "values": [400, 600, 800, 1200, 1400, 1600, 1800, 2200, 2400, 2600, 2800, 3200, 3400, 3600, 3800, 4200, 4400, 4600, 4800, 5200, 5400, 5600, 5800], "tickSize": -10, "labels": false, "title": null}},
                "y": {"field": "obs", "type": "quantitative",
                  "axis": {"orient": "right", "values": [0.02, 0.03, 0.04, 0.05, 0.06, 0.07, 0.08, 0.09, 0.2, 0.3, 0.4, 0.5, 0.6, 0.7, 0.8, 0.9, 2, 3, 4, 5, 6, 7, 8, 9, 20, 30, 40, 50, 60, 70, 80, 90, 200, 300, 400, 500, 600, 700, 800, 900, 2000, 3000, 4000, 5000, 6000, 7000], "tickSize": -13, "labels": false, "title": null}},
                "strokeDash": {"datum": "Observed", "legend": null}
              }
            },
            {
              "data": {"name": "qbh_theory"},
              "mark": {"type": "line", "strokeWidth": 2.2, "clip": true, "interpolate": "monotone"},
              "encoding": {
                "x": {"field": "m", "type": "quantitative", "axis": null},
                "y": {"field": "xs", "type": "quantitative", "axis": null},
                "stroke": {
                  "field": "model", "type": "nominal",
                  "scale": {"domain": ["ADD (n = 4)"], "range": ["#ff2222"]},
                  "legend": {
                    "orient": "none", "legendX": 541, "legendY": 40, "direction": "vertical", "title": null,
                    "labelFontSize": 35, "labelOffset": 63, "symbolSize": 784, "rowPadding": 12,
                    "encode": {"symbols": {"update": {"shape": {"value": "M-0.5,0H4.9"}, "strokeWidth": {"value": 2.5}, "fill": {"value": "transparent"}, "opacity": {"value": 1}}}}
                  }
                }
              }
            },
            {
              "data": {"values": [{}]},
              "mark": {"type": "text", "text": "CMS", "fontSize": 42, "fontWeight": "bold", "align": "left", "baseline": "alphabetic"},
              "encoding": {"x": {"datum": 467, "type": "quantitative", "axis": null}, "y": {"datum": 2013, "type": "quantitative", "axis": null}}
            },
            {
              "data": {"values": [{}]},
              "mark": {"type": "text", "text": "QBH → e τ", "fontSize": 37, "align": "left", "baseline": "alphabetic"},
              "encoding": {"x": {"datum": 600, "type": "quantitative", "axis": null}, "y": {"datum": 596, "type": "quantitative", "axis": null}}
            },
            {
              "data": {"values": [{}]},
              "mark": {"type": "text", "text": "138 fb⁻¹ (13 TeV)", "fontSize": 38, "align": "right", "baseline": "alphabetic"},
              "encoding": {"x": {"datum": 5818, "type": "quantitative", "axis": null}, "y": {"datum": 10670, "type": "quantitative", "axis": null}}
            },
            {
              "data": {"values": [{}]},
              "mark": {"type": "text", "text": "QBH", "fontSize": 83, "fontWeight": "bold", "color": "#d41c78", "align": "left", "baseline": "alphabetic"},
              "encoding": {"x": {"datum": 2493, "type": "quantitative", "axis": null}, "y": {"datum": 12250, "type": "quantitative", "axis": null}}
            }
          ]
        }
      ]
    }
  ],
  "config": {
    "view": {"stroke": null},
    "font": "Liberation Sans",
    "text": {"font": "Liberation Sans", "color": "black"},
    "axis": {
      "grid": false, "domain": false, "tickColor": "black", "tickWidth": 2,
      "labelFont": "Liberation Sans", "labelColor": "black", "labelFontSize": 27,
      "titleFont": "Liberation Sans", "titleColor": "black", "titleFontWeight": "normal",
      "labelFlush": false, "labelOverlap": false
    },
    "legend": {
      "labelFont": "Liberation Sans", "titleFont": "Liberation Sans", "labelColor": "black", "titleColor": "black",
      "titleFontWeight": "normal", "padding": 0, "labelLimit": 600, "titleLimit": 600
    }
  }
}
